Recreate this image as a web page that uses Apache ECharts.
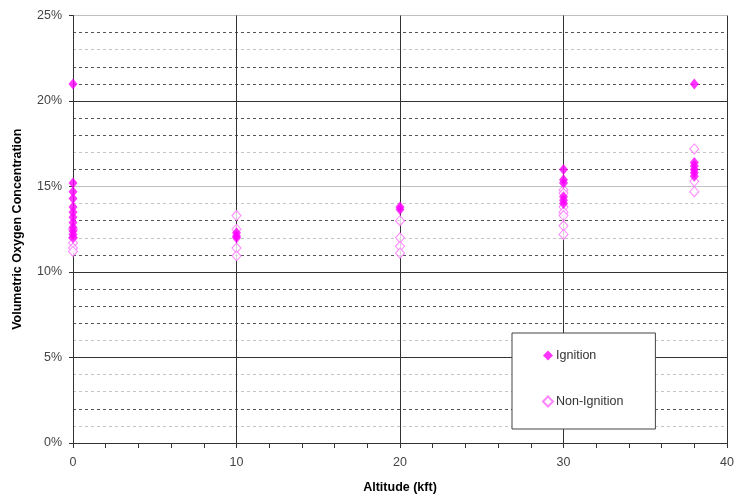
<!DOCTYPE html>
<html>
<head>
<meta charset="utf-8">
<script src="https://cdn.jsdelivr.net/npm/echarts@6/dist/echarts.min.js"></script>
<style>
  html, body { margin: 0; padding: 0; background: #fff; }
  #main { width: 734px; height: 495px; }
</style>
</head>
<body>
<div id="main"></div>
<script>
// data (altitude kft, O2 %)
var ignitionAlt = [0, 0, 0, 0, 0, 0, 0, 0, 0, 0, 0, 0,
                   10, 10, 10,
                   20, 20,
                   30, 30, 30, 30, 30, 30,
                   38, 38, 38, 38, 38, 38];
var ignitionO2 = [21, 15.2, 14.7, 14.3, 13.8, 13.5, 13.2, 12.9, 12.6, 12.4, 12.2, 12.0,
                  12.3, 12.1, 12.0,
                  13.8, 13.65,
                  16.0, 15.4, 15.2, 14.4, 14.2, 14.0,
                  21, 16.4, 16.2, 16.0, 15.8, 15.6];
var nonIgnitionAlt = [0, 0, 0, 0, 0,
                      10, 10, 10, 10,
                      20, 20, 20, 20,
                      30, 30, 30, 30, 30, 30, 30,
                      38, 38, 38];
var nonIgnitionO2 = [12.5, 12.0, 11.7, 11.4, 11.2,
                     13.3, 12.5, 11.4, 10.95,
                     13.0, 12.0, 11.5, 11.1,
                     14.8, 14.6, 13.8, 13.5, 13.3, 12.7, 12.2,
                     17.2, 15.3, 14.7];

function pairs(xs, ys) {
    var out = [];
    for (var i = 0; i < xs.length; i++) out.push([xs[i], ys[i]]);
    return out;
}

// gridline colours (dark / light like the excel export)
var D = '#555', L = '#c4c4c4', T = 'rgba(0,0,0,0)';
var minorColors = [T, L, D, L, L, T, L, D, D, D, T, D, L, D, L, T, D, L, D, D, T, D, D, L, D, T];
var majorColors = [T, '#333', '#333', '#c0c0c0', '#333', '#c0c0c0'];

var font = 'Liberation Sans, Arial, sans-serif';
var myChart = echarts.init(document.getElementById('main'));

var option = {
    backgroundColor: '#fff',
    animation: false,
    grid: { left: 73, right: 7, top: 15.5, bottom: 52, outerBoundsMode: 'none' },
    legend: {
        orient: 'vertical',
        left: 512,
        top: 333,
        padding: [16, 32, 21, 30],
        itemGap: 33,
        itemWidth: 10,
        itemHeight: 10,
        backgroundColor: '#fff',
        borderColor: '#444',
        borderWidth: 1,
        data: ['Ignition', 'Non-Ignition'],
        textStyle: { fontFamily: font, fontSize: 12.5, color: '#333', padding: [0, 0, 0, -2] }
    },
    xAxis: {
        type: 'value',
        min: 0, max: 40, interval: 10,
        name: 'Altitude (kft)',
        nameLocation: 'middle',
        nameGap: 38,
        nameTextStyle: { fontFamily: font, fontSize: 12.5, fontWeight: 'bold', color: '#000' },
        axisLine: { lineStyle: { color: '#333' } },
        axisTick: { length: 5, lineStyle: { color: '#333' } },
        minorTick: { show: true, splitNumber: 5, length: 5, lineStyle: { color: '#333' } },
        axisLabel: { margin: 13, fontFamily: font, fontSize: 12.5, color: '#444' },
        splitLine: { show: true, lineStyle: { color: [T, '#333', '#333', '#333', '#333'] } }
    },
    yAxis: [{
        type: 'value',
        min: 0, max: 25, interval: 5,
        name: 'Volumetric Oxygen Concentration',
        nameLocation: 'middle',
        nameGap: 49,
        nameTextStyle: { fontFamily: font, fontSize: 12.5, fontWeight: 'bold', color: '#000' },
        axisLine: { show: true, lineStyle: { color: '#333' } },
        axisTick: { show: true, length: 4, lineStyle: { color: '#333' } },
        axisLabel: { margin: 11, fontFamily: font, fontSize: 12.5, color: '#444', formatter: '{value}%' },
        splitLine: { show: true, lineStyle: { color: majorColors } }
    }, {
        type: 'value',
        min: 0, max: 25, interval: 1,
        position: 'left',
        axisLine: { show: false },
        axisTick: { show: false },
        axisLabel: { show: false },
        splitLine: { show: true, lineStyle: { color: minorColors, type: [3, 3], width: 1 } }
    }],
    series: [
        {
            name: 'Non-Ignition',
            type: 'scatter',
            symbol: 'diamond',
            symbolSize: [9, 10],
            itemStyle: { color: '#fff', borderColor: '#ff66ff', borderWidth: 1 },
            data: pairs(nonIgnitionAlt, nonIgnitionO2),
            z: 3
        },
        {
            name: 'Ignition',
            type: 'scatter',
            symbol: 'diamond',
            symbolSize: [9, 11],
            itemStyle: { color: '#ff00ff' },
            data: pairs(ignitionAlt, ignitionO2),
            z: 4
        }
    ]
};

myChart.setOption(option);
</script>
</body>
</html>
